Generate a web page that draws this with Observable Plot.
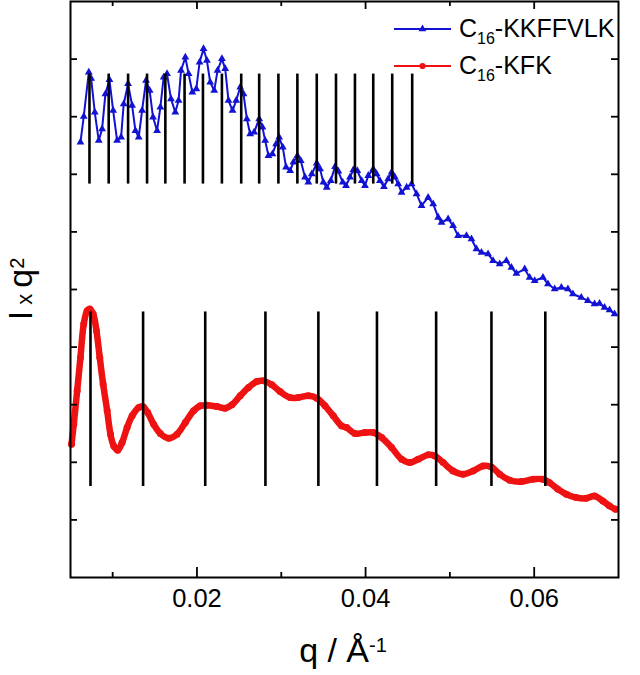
<!DOCTYPE html>
<html>
<head>
<meta charset="utf-8">
<script src="https://cdn.jsdelivr.net/npm/d3@7"></script>
<script src="https://cdn.jsdelivr.net/npm/@observablehq/plot@0.6"></script>
<style>
  html, body { margin: 0; padding: 0; background: #fff; }
  #chart { width: 640px; height: 675px; }
</style>
</head>
<body>
<div id="chart"></div>
<script>
// SAXS profiles, I·q² (arbitrary units, curves offset) against q (Å⁻¹)
const seriesNames = ["C16-KKFFVLK", "C16-KFK"];

const kkQ = [0.00618,0.00657,0.00717,0.00745,0.00788,0.00835,0.00875,0.00914,0.00962,0.01006,0.01053,0.01100,0.01131,0.01183,0.01231,0.01270,0.01309,0.01349,0.01396,0.01439,0.01479,0.01527,0.01566,0.01605,0.01645,0.01692,0.01743,0.01782,0.01811,0.01862,0.01901,0.01945,0.01992,0.02031,0.02078,0.02118,0.02157,0.02205,0.02244,0.02296,0.02335,0.02374,0.02422,0.02465,0.02513,0.02552,0.02592,0.02631,0.02678,0.02738,0.02777,0.02809,0.02848,0.02895,0.02939,0.02975,0.03018,0.03057,0.03105,0.03144,0.03191,0.03231,0.03282,0.03321,0.03362,0.03421,0.03460,0.03499,0.03539,0.03587,0.03638,0.03677,0.03729,0.03768,0.03815,0.03854,0.03902,0.03954,0.03993,0.04032,0.04091,0.04131,0.04170,0.04218,0.04268,0.04309,0.04348,0.04387,0.04427,0.04487,0.04546,0.04605,0.04664,0.04742,0.04802,0.04861,0.04901,0.04979,0.05038,0.05097,0.05197,0.05256,0.05315,0.05375,0.05453,0.05512,0.05591,0.05670,0.05730,0.05789,0.05887,0.05946,0.06006,0.06104,0.06163,0.06243,0.06322,0.06400,0.06459,0.06558,0.06637,0.06716,0.06775,0.06834,0.06894,0.06953];
const kkI = [7.555,8.002,8.771,8.662,8.077,7.585,7.788,8.396,8.640,8.106,7.585,7.642,8.222,8.570,8.193,7.758,7.642,8.106,8.627,8.454,7.990,7.758,8.163,8.685,8.744,8.309,8.077,8.280,8.801,9.032,8.744,8.424,8.483,8.945,9.178,8.975,8.598,8.454,8.801,9.004,8.831,8.280,8.106,8.280,8.511,8.396,7.962,7.701,7.729,7.962,7.816,7.585,7.324,7.354,7.527,7.642,7.468,7.121,7.063,7.208,7.324,7.237,6.947,6.860,7.006,7.190,7.093,6.860,6.773,6.890,7.133,7.051,6.860,6.803,6.947,7.076,7.063,6.890,6.803,6.977,7.093,7.006,6.890,6.785,6.919,7.034,6.947,6.832,6.686,6.773,6.832,6.659,6.455,6.599,6.485,6.252,6.165,6.224,6.108,5.934,5.934,5.877,5.703,5.644,5.616,5.500,5.442,5.500,5.383,5.279,5.355,5.209,5.152,5.209,5.095,5.008,5.036,5.008,4.921,4.862,4.804,4.747,4.758,4.688,4.643,4.573];

const kfkQ = [0.00512,0.00539,0.00579,0.00618,0.00657,0.00698,0.00729,0.00769,0.00808,0.00847,0.00887,0.00935,0.00974,0.01013,0.01060,0.01112,0.01171,0.01231,0.01309,0.01361,0.01415,0.01486,0.01566,0.01664,0.01763,0.01862,0.01960,0.02039,0.02119,0.02237,0.02335,0.02415,0.02513,0.02611,0.02711,0.02789,0.02888,0.02986,0.03105,0.03203,0.03321,0.03421,0.03519,0.03617,0.03717,0.03776,0.03874,0.03993,0.04091,0.04191,0.04309,0.04427,0.04526,0.04624,0.04742,0.04822,0.04920,0.05038,0.05157,0.05275,0.05393,0.05493,0.05591,0.05710,0.05848,0.05985,0.06104,0.06183,0.06281,0.06381,0.06499,0.06618,0.06716,0.06814,0.06894,0.06965];
const kfkI = [2.315,2.662,3.241,3.819,4.400,4.631,4.660,4.573,4.283,3.819,3.357,2.893,2.488,2.285,2.210,2.342,2.603,2.806,2.950,2.963,2.864,2.662,2.499,2.419,2.488,2.690,2.893,2.980,2.992,2.968,2.940,2.997,3.154,3.298,3.402,3.414,3.345,3.229,3.124,3.124,3.154,3.114,2.980,2.806,2.632,2.603,2.499,2.516,2.516,2.429,2.255,2.054,1.995,2.054,2.129,2.111,1.995,1.851,1.793,1.851,1.937,1.920,1.793,1.689,1.665,1.706,1.706,1.647,1.533,1.446,1.387,1.376,1.416,1.329,1.242,1.185];

// Bragg peak positions (Å⁻¹) marked by vertical bars, and the vertical span of each set
const kkPeaks = [0.00725,0.00953,0.01183,0.01408,0.01625,0.01853,0.02071,0.02296,0.02525,0.02738,0.02966,0.03191,0.03421,0.03649,0.03874,0.04091,0.04316,0.04553];
const kkBarSpan = [6.83, 8.74];
const kfkPeaks = [0.00737,0.01361,0.02098,0.02812,0.03440,0.04135,0.04837,0.05493,0.06132];
const kfkBarSpan = [1.58, 4.61];

const xTickLabels = [0.02, 0.04, 0.06];
const xMinorTicks = [0.01, 0.03, 0.05];
const yTicks = [1, 2, 3, 4, 5, 6, 7, 8, 9];

const kk = kkQ.map((q, i) => ({q, v: kkI[i]}));
const kfk = kfkQ.map((q, i) => ({q, v: kfkI[i]}));

const BLUE = "#1212d4";
const RED = "#ee1212";
const FONT = "'Liberation Sans', Arial, Helvetica, sans-serif";
const TICK_FONT = 25.5;
const fmt = d3.format(".2f");

const W = 640, H = 675;
const mL = 70, mR = 22, mT = 1, mB = 98;
const fw = W - mL - mR, fh = H - mT - mB;

const plot = Plot.plot({
  width: W, height: H,
  marginLeft: mL, marginRight: mR, marginTop: mT, marginBottom: mB,
  x: {domain: [0.005, 0.07]},
  y: {domain: [0, 10], axis: null},
  style: {fontFamily: FONT, background: "#fff", color: "#000"},
  marks: [
    Plot.line(kfk, {x: "q", y: "v", stroke: RED, strokeWidth: 6.5, curve: "catmull-rom"}),
    Plot.dot(kfk, {x: "q", y: "v", r: 3.5, fill: RED, stroke: null}),
    Plot.line(kk, {x: "q", y: "v", stroke: BLUE, strokeWidth: 2}),
    Plot.dot(kk, {x: "q", y: "v", symbol: "triangle", r: 2.9, fill: BLUE, stroke: null}),
    Plot.ruleX(kkPeaks, {y1: kkBarSpan[0], y2: kkBarSpan[1], stroke: "#000", strokeWidth: 2.6}),
    Plot.ruleX(kfkPeaks, {y1: kfkBarSpan[0], y2: kfkBarSpan[1], stroke: "#000", strokeWidth: 2.6}),
    // inward ticks on all four sides
    Plot.tickX(xTickLabels, {insetTop: fh - 10, stroke: "#000", strokeWidth: 1.8}),
    Plot.tickX(xTickLabels, {insetBottom: fh - 8, stroke: "#000", strokeWidth: 1.8}),
    Plot.tickX(xMinorTicks, {insetTop: fh - 5, stroke: "#000", strokeWidth: 1.8}),
    Plot.tickX(xMinorTicks, {insetBottom: fh - 5, stroke: "#000", strokeWidth: 1.8}),
    Plot.tickY(yTicks, {insetRight: fw - 7, stroke: "#000", strokeWidth: 1.8}),
    Plot.tickY(yTicks, {insetLeft: fw - 7, stroke: "#000", strokeWidth: 1.8}),
    Plot.axisX(xTickLabels, {
      tickSize: 0, tickPadding: 11.5, fontSize: TICK_FONT, fill: "#000",
      tickFormat: fmt, label: null
    }),
    Plot.frame({stroke: "#000", strokeWidth: 2})
  ]
});

const svg = d3.select(plot);
// tick labels at full size
const tickText = new Set(xTickLabels.map(fmt));
svg.selectAll("text").filter(function () { return tickText.has(this.textContent); })
  .style("font-size", TICK_FONT + "px").style("font-family", FONT);

// x-axis title: q / Å^-1
const xt = svg.append("text")
  .attr("x", mL + fw / 2 - 1).attr("y", 662)
  .attr("text-anchor", "middle")
  .attr("font-family", FONT).attr("fill", "#000");
xt.append("tspan").attr("font-size", 34).text("q / Å");
xt.append("tspan").attr("font-size", 20).attr("dy", -10).text("-1");

// y-axis title: I x q^2
const yt = svg.append("text")
  .attr("transform", `translate(32, ${mT + fh / 2}) rotate(-90)`)
  .attr("text-anchor", "middle")
  .attr("font-family", FONT).attr("fill", "#000");
yt.append("tspan").attr("font-size", 34).text("I");
yt.append("tspan").attr("font-size", 22).text(" x ");
yt.append("tspan").attr("font-size", 34).text("q");
yt.append("tspan").attr("font-size", 20).attr("dy", -8).text("2");

// legend
const legend = svg.append("g").attr("font-family", FONT).attr("fill", "#000")
  .attr("text-anchor", "start");
const rows = [
  {name: seriesNames[0], color: BLUE, symbol: d3.symbolTriangle, size: 26},
  {name: seriesNames[1], color: RED, symbol: d3.symbolCircle, size: 30}
];
rows.forEach((row, i) => {
  const cy = 29 + i * 37;
  const g = legend.append("g").attr("transform", `translate(394, ${cy})`);
  g.append("line").attr("x1", 0).attr("x2", 57).attr("y1", 0).attr("y2", 0)
    .attr("stroke", row.color).attr("stroke-width", 2);
  g.append("path").attr("transform", "translate(28.5, 0)")
    .attr("d", d3.symbol(row.symbol, row.size)()).attr("fill", row.color);
  const [, sub, rest] = row.name.match(/^C(\d+)(.*)$/);
  const t = g.append("text").attr("x", 65).attr("y", 8).attr("font-size", 25)
    .attr("text-anchor", "start");
  t.append("tspan").text("C");
  t.append("tspan").attr("font-size", 16).attr("dy", 7).text(sub);
  t.append("tspan").attr("dy", -7).text(rest);
});

document.getElementById("chart").append(plot);
</script>
</body>
</html>
